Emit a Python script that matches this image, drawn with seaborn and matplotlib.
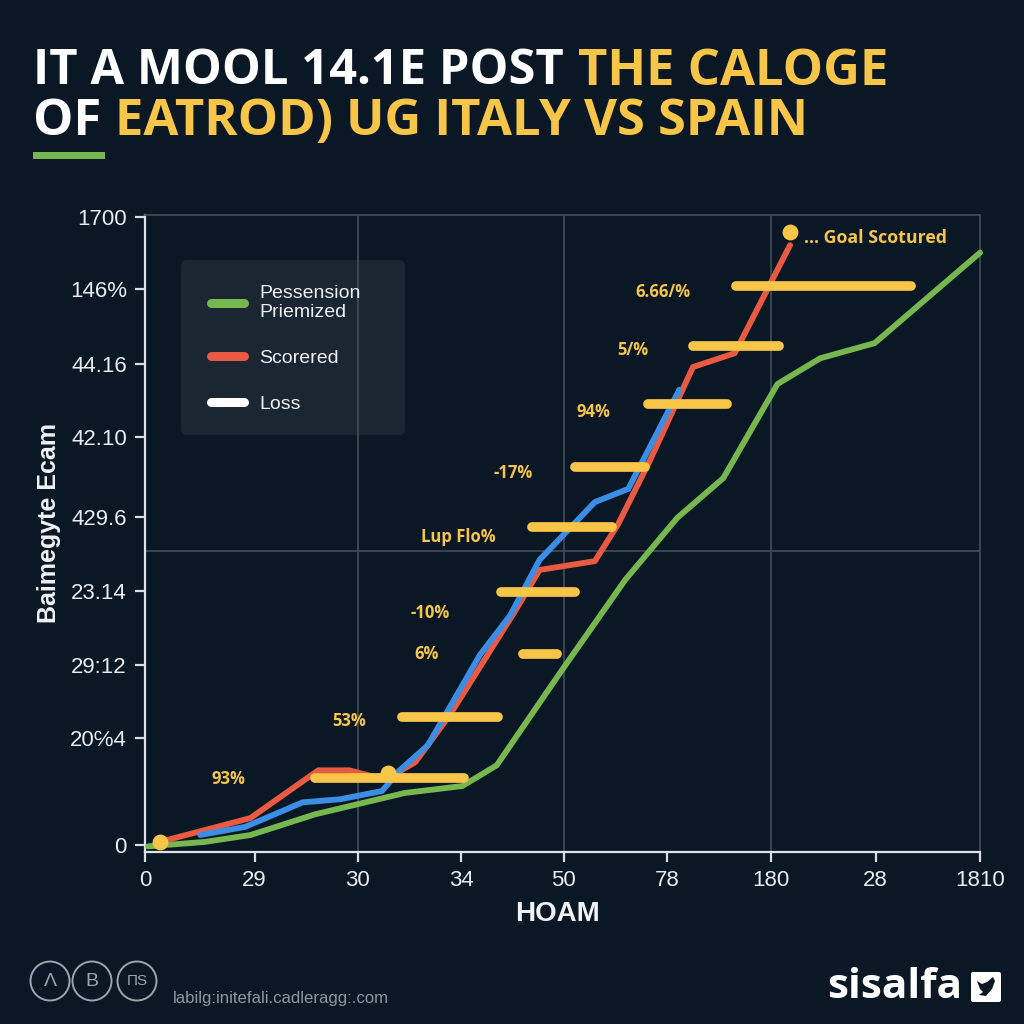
import matplotlib
matplotlib.use("Agg")
import matplotlib.pyplot as plt
from matplotlib.lines import Line2D
from matplotlib.patches import FancyBboxPatch, Circle, Polygon
import pandas as pd
import seaborn as sns

BG = "#0a1724"
GREEN = "#76b84f"
RED = "#ea5a42"
BLUE = "#3a8ee6"
GOLD = "#f7c548"
GRID = "#3d4a56"

x_ticks = [0, 1.05, 2.04, 3.03, 4.01, 5.0, 6.0, 7.0, 8.0]
x_labels = ["0", "29", "30", "34", "50", "78", "180", "28", "1810"]
y_ticks = [0, 17, 28.7, 40.4, 52.2, 65, 76.6, 88.5, 100]
y_labels = ["0", "20℅4", "29:12", "23.14", "429.6", "42.10", "44.16", "146%", "1700"]

green_x = [0.03, 0.57, 1.01, 1.63, 2.49, 3.04, 3.37, 3.98, 4.60, 5.10, 5.54, 6.06, 6.47, 6.99, 8.0]
green_y = [-0.2, 0.5, 1.6, 4.9, 8.3, 9.4, 12.7, 27.5, 42.2, 52.1, 58.4, 73.4, 77.5, 79.9, 94.3]
red_x = [0.14, 1.01, 1.66, 1.96, 2.30, 2.59, 2.92, 3.54, 3.78, 4.31, 4.53, 4.84, 5.25, 5.65, 6.18]
red_y = [0.5, 4.3, 11.9, 11.9, 10.4, 13.2, 20.7, 37.1, 43.8, 45.2, 51.0, 61.3, 76.1, 78.3, 95.5]
blue_x = [0.53, 0.96, 1.51, 1.87, 2.27, 2.44, 2.71, 3.21, 3.50, 3.78, 4.31, 4.63, 5.12]
blue_y = [1.6, 2.9, 6.8, 7.3, 8.6, 11.9, 15.9, 30.3, 36.6, 45.4, 54.6, 56.7, 72.5]

bar_start = [1.63, 2.46, 3.62, 3.41, 3.71, 4.12, 4.82, 5.25, 5.66]
bar_end = [3.06, 3.38, 3.95, 4.12, 4.47, 4.79, 5.58, 6.07, 7.34]
bar_y = [10.7, 20.4, 30.4, 40.3, 50.6, 60.2, 70.2, 79.5, 89.0]

dot_x = [0.14, 2.33, 6.18]
dot_y = [0.5, 11.5, 97.6]

note_text = ["93%", "53%", "6%", "-10%", "Lup Flo%", "-17%", "94%", "5/%", "6.66/%"]
note_x = [0.80, 1.96, 2.70, 2.73, 3.00, 3.53, 4.30, 4.67, 4.96]
note_y = [10.5, 19.8, 30.4, 37.0, 49.0, 59.2, 69.0, 78.8, 88.0]

sns.set_theme(style="dark", rc={"figure.facecolor": BG, "axes.facecolor": BG})
plt.rcParams["font.family"] = ["Liberation Sans", "DejaVu Sans"]
TITLE_FONT = ["Open Sans", "DejaVu Sans"]

fig = plt.figure(figsize=(10.24, 10.24), dpi=100, facecolor=BG)
ax = fig.add_axes([145 / 1024, 172 / 1024, 835 / 1024, 637 / 1024], facecolor=BG)


def draw(xs, ys, color):
    df = pd.DataFrame({"x": xs, "y": ys})
    sns.lineplot(data=df, x="x", y="y", sort=False, estimator=None, color=color, lw=4.2,
                 ax=ax, solid_joinstyle="round", solid_capstyle="round", zorder=3, clip_on=False)


draw(green_x, green_y, GREEN)
draw(red_x, red_y, RED)
draw(blue_x, blue_y, BLUE)
ax.hlines(bar_y, bar_start, bar_end, color=GOLD, lw=7.0, capstyle="round", zorder=5)
sns.scatterplot(x=dot_x, y=dot_y, color=GOLD, s=130, linewidth=0, ax=ax, zorder=6)
for t, nx, ny in zip(note_text, note_x, note_y):
    ax.text(nx, ny, t, color=GOLD, fontsize=12, fontweight="bold", family=TITLE_FONT,
            ha="center", va="center", zorder=6)
ax.text(6.31, 96.7, "... Goal Scotured", color=GOLD, fontsize=12.8, fontweight="bold",
        family=TITLE_FONT, ha="left", va="center", zorder=6)

ax.set_xlim(0, 8)
ax.set_ylim(-1.1, 100.3)
ax.set_xticks(x_ticks, x_labels)
ax.set_yticks(y_ticks, y_labels)
ax.tick_params(colors="#e8ecef", labelsize=16, length=7, width=1.6, pad=6, color="#d8dde2",
               bottom=True, left=True)
ax.grid(False)
for v in [2.04, 4.01, 6.0]:
    ax.axvline(v, color=GRID, lw=1.3, zorder=1)
ax.axhline(46.8, color=GRID, lw=1.3, zorder=1)
for s in ["left", "bottom"]:
    ax.spines[s].set_color("#dfe3e7")
    ax.spines[s].set_linewidth(1.6)
for s in ["top", "right"]:
    ax.spines[s].set_color(GRID)
    ax.spines[s].set_linewidth(1.3)

ax.set_xlabel("HOAM", color="#f0f2f4", fontsize=20, fontweight="bold")
ax.set_ylabel("Baimegyte Ecam", color="#f0f2f4", fontsize=18, fontweight="bold")
ax.yaxis.set_label_coords(-0.101, 0.517)
ax.xaxis.set_label_coords(0.494, -0.077)

# legend panel and entries
ax.add_patch(FancyBboxPatch((181 / 1024, 1 - 435 / 1024), 224 / 1024, 175 / 1024,
                            boxstyle="round,pad=0,rounding_size=0.006", transform=fig.transFigure,
                            fc="#1a2632", ec="none", zorder=0.5, clip_on=False))
handles = [Line2D([], [], color=GREEN, lw=6.5, solid_capstyle="round"),
           Line2D([], [], color=RED, lw=6.5, solid_capstyle="round"),
           Line2D([], [], color="white", lw=6.5, solid_capstyle="round")]
leg = ax.legend(handles, ["Pessension\nPriemized", "Scorered", "Loss"], frameon=False,
                loc="upper left", bbox_to_anchor=(211 / 1024, 1 - 285 / 1024),
                bbox_transform=fig.transFigure, fontsize=14, handlelength=1.7,
                handletextpad=0.8, labelspacing=1.45, borderpad=0, borderaxespad=0,
                labelcolor="#eef1f3")
leg.get_texts()[0].set_linespacing(1.15)
leg.set_zorder(4)

# title
TY1, TY2 = 72, 122
fig.text(33 / 1024, 1 - TY1 / 1024, "IT A MOOL 14.1E POST", color="white", fontsize=35.2,
         fontweight="bold", va="center", family=TITLE_FONT)
fig.text(578 / 1024, 1 - TY1 / 1024, "THE CALOGE", color=GOLD, fontsize=36.5,
         fontweight="bold", va="center", family=TITLE_FONT)
fig.text(33 / 1024, 1 - TY2 / 1024, "OF", color="white", fontsize=36.5,
         fontweight="bold", va="center", family=TITLE_FONT)
fig.text(115 / 1024, 1 - TY2 / 1024, "EATROD) UG ITALY VS SPAIN", color=GOLD, fontsize=36.5,
         fontweight="bold", va="center", family=TITLE_FONT)
fig.add_artist(plt.Rectangle((33 / 1024, 1 - 159 / 1024), 72 / 1024, 7 / 1024,
                             transform=fig.transFigure, fc=GREEN, ec="none"))

# footer
for cx, lab, fs in zip([50, 92, 137], ["Λ", "B", "ΠS"], [14, 14, 11]):
    fig.add_artist(Circle((cx / 1024, 1 - 981 / 1024), 19.5 / 1024, transform=fig.transFigure,
                          fc="none", ec="#9aa5ae", lw=1.4))
    fig.text(cx / 1024, 1 - 981 / 1024, lab, color="#9aa5ae", fontsize=fs, ha="center", va="center")
fig.text(173 / 1024, 1 - 998 / 1024, "labilg:initefali.cadleragg:.com", color="#8b96a0",
         fontsize=12.1, va="center")
fig.text(827 / 1024, 1 - 988 / 1024, "sisalfa", color="white", fontsize=30.5, fontweight="bold",
         va="center", family=TITLE_FONT)
fig.add_artist(FancyBboxPatch((971 / 1024, 1 - 1002 / 1024), 30 / 1024, 30 / 1024,
                              boxstyle="round,pad=0,rounding_size=0.002", transform=fig.transFigure,
                              fc="white", ec="none"))
bird = [(977, 981), (982, 984), (987, 982), (993, 977), (995, 981), (992, 989),
        (986, 996), (979, 995), (983, 992), (980, 989)]
fig.add_artist(Polygon([(px / 1024, 1 - py / 1024) for px, py in bird], closed=True,
                       transform=fig.transFigure, fc=BG, ec="none"))

fig.savefig("out.png", dpi=100, facecolor=BG)
